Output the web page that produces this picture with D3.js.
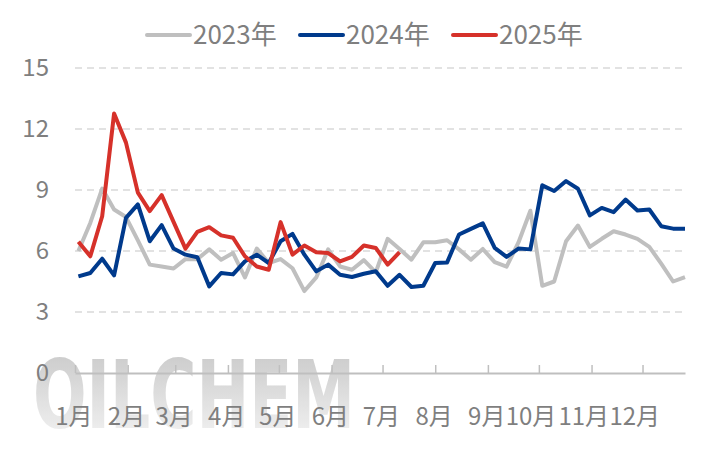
<!DOCTYPE html>
<html>
<head>
<meta charset="utf-8">
<script src="https://cdn.jsdelivr.net/npm/d3@7"></script>
<style>
body { margin: 0; background: #fff; }
</style>
</head>
<body>
<div id="chart"></div>
<script>
let series_names = ["2023年", "2024年", "2025年"];
let series_colors = ["#bfbfbf", "#003a8c", "#d6312a"];
let first_week = "2023-01-03";

let values_2023 = [6.0, 7.38, 9.07, 8.04, 7.67, 6.52, 5.33, 5.24, 5.14, 5.6,
    5.6, 6.08, 5.57, 5.9, 4.7, 6.12, 5.41, 5.6, 5.15, 4.03,
    4.7, 6.08, 5.24, 5.08, 5.55, 4.95, 6.6, 6.1, 5.57, 6.43,
    6.43, 6.53, 6.08, 5.57, 6.1, 5.45, 5.23, 6.42, 7.98, 4.29,
    4.5, 6.48, 7.25, 6.2, 6.6, 6.97, 6.81, 6.6, 6.2, 5.38,
    4.5, 4.72];
let values_2024 = [4.75, 4.92, 5.62, 4.8, 7.63, 8.29, 6.48, 7.27, 6.12, 5.82,
    5.69, 4.26, 4.92, 4.85, 5.49, 5.82, 5.41, 6.48, 6.84, 5.82,
    5.0, 5.33, 4.83, 4.72, 4.88, 5.0, 4.29, 4.83, 4.23, 4.29,
    5.41, 5.44, 6.81, 7.09, 7.36, 6.15, 5.71, 6.12, 6.08, 9.23,
    8.95, 9.44, 9.06, 7.75, 8.12, 7.91, 8.53, 7.99, 8.04, 7.22,
    7.1, 7.1];
let values_2025 = [6.45, 5.74, 7.71, 12.76, 11.33, 8.87, 7.96, 8.75, 7.43, 6.12,
    6.94, 7.17, 6.77, 6.65, 5.74, 5.24, 5.08, 7.42, 5.82, 6.27,
    5.94, 5.9, 5.49, 5.71, 6.27, 6.15, 5.33, 5.94];

let y_ticks = [0, 3, 6, 9, 12, 15];
let month_labels = ["1月", "2月", "3月", "4月", "5月", "6月", "7月", "8月", "9月", "10月", "11月", "12月"];

let drawChart = function(){
    let margin = {top: 68, bottom: 77, left: 75, right: 40};
    let width = 725;
    let height = 450;
    let font = "'Noto Sans CJK SC', 'Noto Sans', sans-serif";
    let textColor = "#7f7f7f";

    let svg = d3.select("#chart")
        .append("svg")
        .attr("width", width)
        .attr("height", height)
        .style("font-family", font);

    let start = d3.timeParse("%Y-%m-%d")(first_week);
    let x = d3.scaleTime()
        .domain([new Date(2023, 0, 1), new Date(2023, 11, 26)])
        .range([margin.left, width - margin.right]);
    let y = d3.scaleLinear()
        .domain([0, 15])
        .range([height - margin.bottom, margin.top]);

    // watermark
    let grad = svg.append("defs").append("linearGradient")
        .attr("id", "wm").attr("x1", 0).attr("y1", 0).attr("x2", 0).attr("y2", 1);
    grad.append("stop").attr("offset", "0%").attr("stop-color", "#bdbdbd");
    grad.append("stop").attr("offset", "100%").attr("stop-color", "#f5f5f5");
    svg.append("text")
        .attr("x", 33)
        .attr("y", 428)
        .attr("textLength", 322)
        .attr("lengthAdjust", "spacingAndGlyphs")
        .style("font-family", "'DejaVu Sans', sans-serif")
        .style("font-weight", "bold")
        .style("font-size", "94px")
        .attr("fill", "url(#wm)")
        .attr("opacity", 0.85)
        .text("OILCHEM");

    // grid
    svg.append("g")
        .selectAll("line")
        .data(y_ticks.filter(d => d > 0))
        .enter()
        .append("line")
        .attr("x1", margin.left)
        .attr("x2", width - margin.right)
        .attr("y1", d => y(d))
        .attr("y2", d => y(d))
        .attr("stroke", "#d9d9d9")
        .attr("stroke-width", 1.5)
        .attr("stroke-dasharray", "7,5");

    // y labels
    svg.append("g")
        .selectAll("text")
        .data(y_ticks)
        .enter()
        .append("text")
        .attr("x", 49)
        .attr("y", d => y(d))
        .attr("dy", "0.35em")
        .attr("text-anchor", "end")
        .attr("fill", textColor)
        .style("font-size", "24px")
        .text(d => d);

    // x axis
    let months = d3.timeMonth.range(new Date(2023, 0, 1), new Date(2023, 11, 2));
    let xAxis = svg.append("g")
        .attr("transform", "translate(0," + y(0) + ")")
        .call(d3.axisBottom(x)
            .tickValues(months)
            .tickSizeInner(-8)
            .tickSizeOuter(0)
            .tickFormat(d => month_labels[d.getMonth()]));
    xAxis.select(".domain").attr("stroke", "#bfbfbf").attr("stroke-width", 2);
    xAxis.selectAll(".tick line").attr("stroke", "#bfbfbf").attr("stroke-width", 1.5);
    xAxis.selectAll(".tick text")
        .attr("y", 52)
        .attr("dy", null)
        .attr("x", 17)
        .attr("text-anchor", "end")
        .attr("fill", textColor)
        .style("font-family", font)
        .style("font-size", "24px");

    // lines
    let all = [values_2023, values_2024, values_2025];
    let line = d3.line()
        .x((d, i) => x(d3.timeDay.offset(start, 7 * i)))
        .y(d => y(d));
    svg.append("g")
        .selectAll("path")
        .data(all)
        .enter()
        .append("path")
        .attr("fill", "none")
        .attr("stroke", (d, i) => series_colors[i])
        .attr("stroke-width", 4)
        .attr("stroke-linejoin", "round")
        .attr("d", line);

    // legend
    let lx = 147;
    for(let i = 0; i < series_names.length; i++){
        svg.append("line")
            .attr("x1", lx).attr("x2", lx + 43)
            .attr("y1", 35).attr("y2", 35)
            .attr("stroke", series_colors[i])
            .attr("stroke-width", 4)
            .attr("stroke-linecap", "round");
        svg.append("text")
            .attr("x", lx + 46)
            .attr("y", 44)
            .attr("fill", textColor)
            .style("font-size", "26px")
            .text(series_names[i]);
        lx = lx + 153;
    }
}

drawChart();
</script>
</body>
</html>
